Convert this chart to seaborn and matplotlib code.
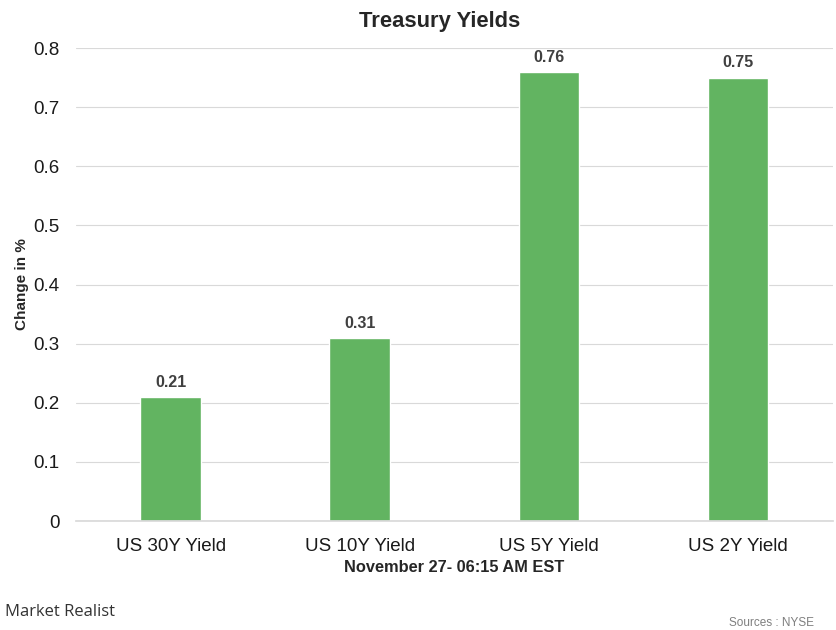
import matplotlib
matplotlib.use("Agg")
import matplotlib.pyplot as plt
import seaborn as sns
import pandas as pd

categories = ["US 30Y Yield", "US 10Y Yield", "US 5Y Yield", "US 2Y Yield"]
values = [0.21, 0.31, 0.76, 0.75]
yticks = [0, 0.1, 0.2, 0.3, 0.4, 0.5, 0.6, 0.7, 0.8]

sns.set_theme(style="white")
plt.rcParams['font.family'] = ['Liberation Sans', 'DejaVu Sans']

df = pd.DataFrame({"cat": categories, "val": values})
fig = plt.figure(figsize=(8.37, 6.30), dpi=100)
ax = fig.add_axes([0.0908, 0.173, 0.904, 0.7508])
sns.barplot(data=df, x="cat", y="val", color="#62b461", width=0.32, ax=ax, saturation=1)

ax.set_ylim(0, 0.8)
ax.set_yticks(yticks)
ax.set_yticklabels([("%g" % t) for t in yticks], fontsize=13.5, color="#1a1a1a")
ax.tick_params(axis='x', labelsize=13.5, pad=12, length=0, labelcolor="#1a1a1a")
ax.tick_params(axis='y', pad=12, length=0)
ax.yaxis.grid(True, color="#d9d9d9", linewidth=0.8)
ax.set_axisbelow(True)
for s in ["top", "right", "left"]:
    ax.spines[s].set_visible(False)
ax.spines["bottom"].set_color("#d9d9d9")
ax.set_xlim(-0.5, 3.5)

for i, v in enumerate(values):
    ax.text(i, v + 0.012, "%.2f" % v, ha="center", va="bottom", fontsize=11.5, fontweight="bold", color="#404040")

ax.set_xlabel("November 27- 06:15 AM EST", fontsize=11.8, fontweight="bold", labelpad=4)
ax.set_ylabel("Change in %", fontsize=11, fontweight="bold", labelpad=3)
fig.text(440 / 837, 1 - 22 / 630, "Treasury Yields", fontsize=15.8, fontweight="bold", ha="center", va="center")

fig.text(0.006, 0.022, "Market Realist", fontsize=12, color="#333333", family=["Open Sans", "DejaVu Sans"])
fig.text(0.972, 0.006, "Sources : NYSE", fontsize=8.5, color="#7f7f7f", ha="right")

fig.savefig("out.png", dpi=100)
